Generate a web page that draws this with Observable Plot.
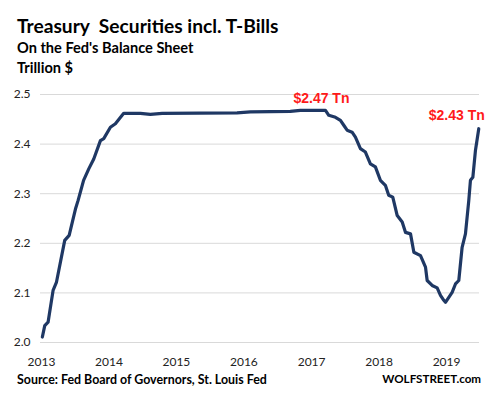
<!DOCTYPE html>
<html><head><meta charset="utf-8">
<script src="https://cdn.jsdelivr.net/npm/d3@7"></script>
<script src="https://cdn.jsdelivr.net/npm/@observablehq/plot@0.6"></script>
<style>
body{margin:0;background:#fff;}
#wrap{position:relative;width:488px;height:399px;overflow:hidden;font-family:Lato,"Open Sans",sans-serif;background:#fff;}
.t{position:absolute;white-space:nowrap;font-weight:700;color:#000;line-height:1;}
#title{left:17px;top:15.5px;font-size:19.2px;}
#sub1{left:17px;top:41px;font-size:14.6px;}
#sub2{left:17px;top:61px;font-size:14.6px;}
#src{left:17px;top:374.2px;font-size:12.4px;}
#brand{right:7px;top:372.5px;font-size:11.6px;}
#chart{position:absolute;left:0;top:80px;}
</style></head><body>
<div id="wrap">
<div class="t" id="title">Treasury&nbsp; Securities incl. T-Bills</div>
<div class="t" id="sub1">On the Fed's Balance Sheet</div>
<div class="t" id="sub2">Trillion $</div>
<div id="chart"></div>
<div class="t" id="src">Source: Fed Board of Governors, St. Louis Fed</div>
<div class="t" id="brand">WOLFSTREET.com</div>
</div>
<script>
// Treasury securities held by the Fed, trillion $
const dates = [
  "2013-01-06","2013-01-19","2013-02-06","2013-03-05","2013-03-23","2013-05-07","2013-05-31",
  "2013-07-04","2013-07-18","2013-08-17","2013-09-14","2013-10-11","2013-11-16","2013-12-04",
  "2014-01-09","2014-02-05","2014-03-22","2014-06-20","2014-08-13","2014-10-16","2015-11-25",
  "2016-02-05","2016-09-08","2016-11-01","2017-03-17","2017-04-04","2017-05-10","2017-06-06",
  "2017-06-24","2017-07-12","2017-08-08","2017-08-26","2017-09-22","2017-10-19","2017-11-15",
  "2017-12-12","2018-01-08","2018-02-04","2018-02-22","2018-03-16","2018-04-09","2018-05-06",
  "2018-05-24","2018-06-20","2018-07-08","2018-08-13","2018-09-09","2018-09-18","2018-10-15",
  "2018-11-11","2018-11-29","2018-12-17","2018-12-26","2019-01-13","2019-01-31","2019-02-18",
  "2019-03-08","2019-03-26","2019-04-13","2019-05-01","2019-05-10","2019-05-23","2019-06-06",
  "2019-06-24"
];
const values = [
  2.011,2.034,2.041,2.105,2.121,2.206,2.216,
  2.269,2.286,2.327,2.350,2.370,2.407,2.411,
  2.434,2.441,2.462,2.462,2.460,2.462,2.463,
  2.465,2.466,2.468,2.468,2.458,2.454,2.448,
  2.438,2.428,2.424,2.414,2.391,2.384,2.360,
  2.354,2.327,2.317,2.297,2.293,2.256,2.243,
  2.222,2.219,2.182,2.175,2.152,2.125,2.115,
  2.110,2.095,2.085,2.081,2.091,2.101,2.118,
  2.125,2.192,2.219,2.286,2.327,2.333,2.387,
  2.431
];
const yTicks = [2.0, 2.1, 2.2, 2.3, 2.4, 2.5];
const xTickYears = ["2013","2014","2015","2016","2017","2018","2019"];
const annotationDates = ["2017-03-17", "2019-06-24"];
const annotationLabels = ["$2.47 Tn", "$2.43 Tn"];

const series = dates.map((d, i) => ({date: new Date(d + "T00:00:00Z"), value: values[i]}));
const notes = annotationDates.map((d, i) => {
  const dt = new Date(d + "T00:00:00Z");
  const p = series.find(s => +s.date === +dt);
  return {date: dt, value: p.value, label: annotationLabels[i]};
});
const xTicks = xTickYears.map(y => new Date(y + "-01-01T00:00:00Z"));

const chart = Plot.plot({
  width: 488,
  height: 290,
  marginLeft: 40,
  marginRight: 9,
  marginTop: 14,
  marginBottom: 28,
  style: {fontFamily: "Lato, 'Open Sans', sans-serif", fontSize: "12px", color: "#222", background: "#fff"},
  x: {type: "utc", domain: [new Date("2012-12-27T00:00:00Z"), new Date("2019-06-28T00:00:00Z")]},
  y: {domain: [2.0, 2.5]},
  marks: [
    Plot.gridY(yTicks, {stroke: "#d9d9d9", strokeOpacity: 1, strokeWidth: 1}),
    Plot.axisY(yTicks, {tickSize: 0, tickPadding: 10, tickFormat: d3.format(".1f"), label: null, fill: "#222"}),
    Plot.axisX(xTicks, {tickSize: 0, tickPadding: 15, tickFormat: d3.utcFormat("%Y"), label: null, fill: "#222"}),
    Plot.line(series, {x: "date", y: "value", stroke: "#1f3864", strokeWidth: 3.2, strokeLinejoin: "round", strokeLinecap: "round"}),
    Plot.text(notes.slice(0,1), {x: "date", y: "value", text: "label", dx: -4, dy: -12, fill: "#ff1a1a", fontWeight: "bold", fontSize: 14, fontFamily: "Liberation Sans, Arial, sans-serif"}),
    Plot.text(notes.slice(1), {x: "date", y: "value", text: "label", textAnchor: "end", dx: 6, dy: -13, fill: "#ff1a1a", fontWeight: "bold", fontSize: 14, fontFamily: "Liberation Sans, Arial, sans-serif"})
  ]
});
document.getElementById("chart").appendChild(chart);
</script>
</body></html>
